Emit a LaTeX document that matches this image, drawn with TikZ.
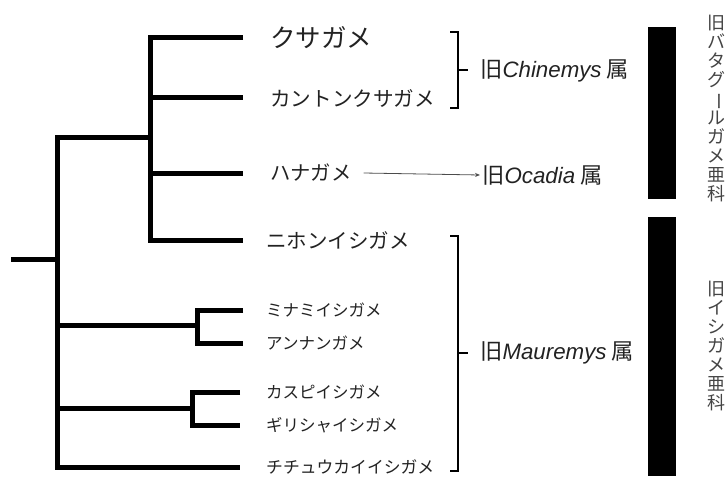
\documentclass[tikz,border=0pt]{standalone}
\usepackage{fontspec}
\setmainfont{Noto Sans CJK JP}
\newfontfamily\lat{Liberation Sans}
\usetikzlibrary{arrows.meta}
\definecolor{txt}{HTML}{222222}
\definecolor{vtxt}{HTML}{444444}
\begin{document}
\begin{tikzpicture}[x=1pt,y=-1pt,
  tree/.style={line width=5pt, line join=miter},
  brk/.style={line width=2.6pt, line join=miter},
  leaf/.style={anchor=west, inner sep=0pt, text=txt},
  genus/.style={anchor=west, inner sep=0pt, text=txt, font=\fontsize{22.3}{22.3}\selectfont},
  bar/.style={fill=black, draw=none},
  vlab/.style={align=center, inner sep=0pt, text=vtxt, font=\fontsize{18}{19}\selectfont},
  arr/.style={draw=black!70, line width=0.8pt, -{Stealth[length=5pt,width=4pt]}}]
\useasboundingbox (0,0) rectangle (727,476);

% leaf ends
\coordinate (e1) at (243,38);
\coordinate (e2) at (243,98);
\coordinate (e3) at (243,173);
\coordinate (e4) at (243,240);
\coordinate (e5) at (243,310);
\coordinate (e6) at (243,343);
\coordinate (e7) at (240,392);
\coordinate (e8) at (240,425);
\coordinate (e10) at (240,467);
% internal
\coordinate (root) at (11,259);
\coordinate (m) at (57,259);
\coordinate (u) at (150,137);
\coordinate (ub) at (150,240);
\coordinate (mb) at (57,467);
\coordinate (a) at (197,325);
\coordinate (ab) at (197,343);
\coordinate (c) at (192,408);
\coordinate (cb) at (192,425);

% tree
\draw[tree] (root) -- (m);
\draw[tree] (u) -| (mb) -- (e10);
\draw[tree] (e1) -| (ub) -- (e4);
\draw[tree] (150,98) -- (e2);
\draw[tree] (150,173) -- (e3);
\draw[tree] (57,325) -- (a);
\draw[tree] (e5) -| (ab) -- (e6);
\draw[tree] (57,408) -- (c);
\draw[tree] (e7) -| (cb) -- (e8);

% leaf labels
\node[leaf, font=\fontsize{25.5}{25.5}\selectfont] (n1) at (270,38) {クサガメ};
\node[leaf, font=\fontsize{20.6}{20.6}\selectfont] (n2) at (270,98) {カントンクサガメ};
\node[leaf, font=\fontsize{20.3}{20.3}\selectfont] (n3) at (270,173) {ハナガメ};
\node[leaf, font=\fontsize{20.5}{20.5}\selectfont] (n4) at (266,240) {ニホンイシガメ};
\node[leaf, font=\fontsize{16.5}{16.5}\selectfont] (n5) at (266,310) {ミナミイシガメ};
\node[leaf, font=\fontsize{16.5}{16.5}\selectfont] (n6) at (266,343) {アンナンガメ};
\node[leaf, font=\fontsize{16.5}{16.5}\selectfont] (n7) at (266,392) {カスピイシガメ};
\node[leaf, font=\fontsize{16.5}{16.5}\selectfont] (n8) at (266,425) {ギリシャイシガメ};
\node[leaf, font=\fontsize{16.8}{16.8}\selectfont] (n10) at (266,467) {チチュウカイイシガメ};

% brackets
\coordinate (b1t) at (458,32);
\coordinate (b1b) at (458,108);
\coordinate (b1m) at (458,70);
\draw[brk] (450,32) -- (b1t) -- (b1b) -- (450,108);
\draw[brk] (b1m) -- (468,70);
\coordinate (b2t) at (458,236);
\coordinate (b2b) at (458,471);
\coordinate (b2m) at (458,353);
\draw[brk] (450,236) -- (b2t) -- (b2b) -- (450,471);
\draw[brk] (b2m) -- (468,353);

% genus labels
\node[genus] (g1) at (480,71) {旧{\lat\itshape Chinemys} 属};
\node[genus] (g2) at (482,175) {旧{\lat\itshape Ocadia} 属};
\node[genus] (g3) at (480,353) {旧{\lat\itshape Mauremys} 属};

\draw[arr] ([xshift=12pt]n3.east) -- ([xshift=-2pt]g2.west);

% bars
\path[bar] (648,27) rectangle (676,199);
\path[bar] (648,217) rectangle (676,476);

% vertical labels
\node[vlab, anchor=north] (v1) at (716.5,15) {旧\\バ\\タ\\グ\\\rotatebox[origin=c]{-90}{ー}\\ル\\ガ\\メ\\亜\\科};
\node[vlab, anchor=north] (v2) at (716.5,281) {旧\\イ\\シ\\ガ\\メ\\亜\\科};
\end{tikzpicture}
\end{document}
